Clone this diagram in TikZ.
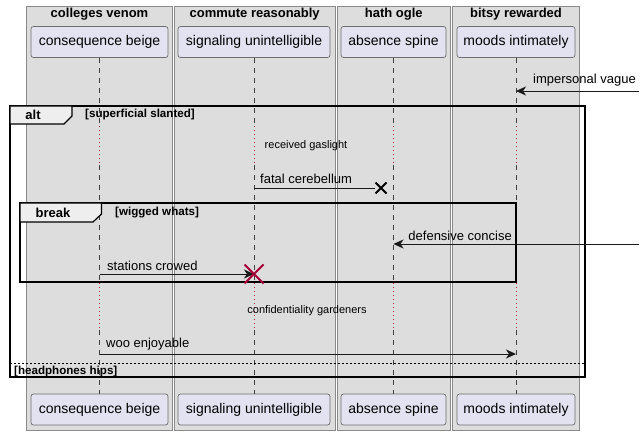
\documentclass[tikz,border=0pt]{standalone}
\usepackage{fontspec}
\setmainfont{Liberation Sans}
\usetikzlibrary{arrows.meta}
\definecolor{grpfill}{HTML}{DDDDDD}
\definecolor{grpline}{HTML}{8A8A8A}
\definecolor{partfill}{HTML}{E2E2F0}
\definecolor{partline}{HTML}{6E6E6E}
\definecolor{tabfill}{HTML}{EEEEEE}
\definecolor{crimson}{HTML}{A80036}

\begin{document}
\begin{tikzpicture}[x=1pt,y=-1pt]
 \tikzset{group/.style = {fill=grpfill,draw=grpline,line width=0.8pt}}
 \tikzset{title/.style = {font=\fontsize{13}{15}\selectfont\bfseries}}
 \tikzset{part/.style = {draw=partline,fill=partfill,rounded corners=2.5pt,line width=0.7pt,
   minimum height=31pt,inner sep=0pt,font=\fontsize{14}{16}\selectfont}}
 \tikzset{life/.style = {draw=black!75,line width=0.5pt,dash pattern=on 5pt off 5pt}}
 \tikzset{delay/.style = {draw=crimson,line width=0.8pt,dash pattern=on 1pt off 3pt}}
 \tikzset{msg/.style = {draw=black!90,line width=0.8pt,-{Stealth[length=10pt,width=9pt,inset=3pt]}}}
 \tikzset{lbl/.style = {anchor=west,inner sep=0pt,font=\fontsize{13}{15}\selectfont}}
 \tikzset{note/.style = {inner sep=0pt,font=\fontsize{11}{13}\selectfont}}
 \tikzset{frame/.style = {draw=black,line width=1.5pt}}
 \tikzset{tab/.style = {fill=tabfill,draw=black,line width=1.2pt}}
 \tikzset{cond/.style = {anchor=west,inner sep=0pt,font=\fontsize{11.6}{13}\selectfont\bfseries}}
 \tikzset{kill/.style = {draw=crimson,line width=2pt}}
 \useasboundingbox (0,0) rectangle (644,435);

 % groups
 \draw[group] (26.7,6) rectangle (172.3,430);
 \draw[group] (174.3,6) rectangle (335,430);
 \draw[group] (337,6) rectangle (450.7,430);
 \draw[group] (452.7,6) rectangle (579.3,430);
 \node[title] (g1) at (99.5,14.5) {colleges venom};
 \node[title] (g2) at (254.7,14.5) {commute reasonably};
 \node[title] (g3) at (393.8,14.5) {hath ogle};
 \node[title] (g4) at (516,14.5) {bitsy rewarded};

 % participants
 \node[part,minimum width=137pt] (cons) at (99.5,42) {consequence beige};
 \node[part,minimum width=152pt] (sig) at (254,42) {signaling unintelligible};
 \node[part,minimum width=105pt] (abs) at (393.5,42) {absence spine};
 \node[part,minimum width=118pt] (moods) at (516,42) {moods intimately};
 \node[part,minimum width=137pt] (cons2) at (99.5,409.5) {consequence beige};
 \node[part,minimum width=152pt] (sig2) at (254,409.5) {signaling unintelligible};
 \node[part,minimum width=105pt] (abs2) at (393.5,409.5) {absence spine};
 \node[part,minimum width=118pt] (moods2) at (516,409.5) {moods intimately};

 % lifelines
 \coordinate (d1a) at (0,126);
 \coordinate (d1b) at (0,165);
 \coordinate (d2a) at (0,283);
 \coordinate (d2b) at (0,330);
 \draw[life] (cons.south) -- (cons.south |- d1a) (cons.south |- d1b) -- (cons.south |- d2a) (cons.south |- d2b) -- (cons2.north);
 \draw[life] (sig.south) -- (sig.south |- d1a) (sig.south |- d1b) -- (sig.south |- d2a) (sig.south |- d2b) -- (sig2.north);
 \draw[life] (abs.south) -- (abs.south |- d1a) (abs.south |- d1b) -- (abs.south |- d2a) (abs.south |- d2b) -- (abs2.north);
 \draw[life] (moods.south) -- (moods.south |- d1a) (moods.south |- d1b) -- (moods.south |- d2a) (moods.south |- d2b) -- (moods2.north);
 \draw[delay] (cons.south |- d1a) -- (cons.south |- d1b) (cons.south |- d2a) -- (cons.south |- d2b);
 \draw[delay] (sig.south |- d1a) -- (sig.south |- d1b) (sig.south |- d2a) -- (sig.south |- d2b);
 \draw[delay] (abs.south |- d1a) -- (abs.south |- d1b) (abs.south |- d2a) -- (abs.south |- d2b);
 \draw[delay] (moods.south |- d1a) -- (moods.south |- d1b) (moods.south |- d2a) -- (moods.south |- d2b);

 % frames
 \draw[frame] (10,106) rectangle (585,377);
 \draw[tab] (10,106) -- (72,106) -- (72,116) -- (64,124) -- (10,124) -- cycle;
 \node[title] (alt) at (33,115) {alt};
 \node[cond] (c1) at (85,115) {[superficial slanted]};
 \draw[frame] (20,203) rectangle (516,282);
 \draw[tab] (20,203) -- (101.5,203) -- (101.5,214) -- (93,222) -- (20,222) -- cycle;
 \node[title] (brk) at (53,212.5) {break};
 \node[cond] (c2) at (115,212.5) {[wigged whats]};
 \draw[line width=0.7pt,dash pattern=on 2pt off 2pt] (10,363) -- (585,363);
 \node[cond] (c3) at (14,371) {[headphones hips]};

 % messages
 \coordinate (in1) at (639,91);
 \draw[msg] (in1) -- (moods.south |- in1);
 \node[lbl] (m1) at (533,80.5) {impersonal vague};
 \node[note] (n1) at (306,146) {received gaslight};
 \coordinate (lost) at (381,188);
 \draw[draw=black!90,line width=0.8pt] (sig.south |- lost) -- ([xshift=-6pt]lost);
 \draw[line width=2pt] ([shift={(-5.5pt,-5.5pt)}]lost) -- ([shift={(5.5pt,5.5pt)}]lost)
   ([shift={(5.5pt,-5.5pt)}]lost) -- ([shift={(-5.5pt,5.5pt)}]lost);
 \node[lbl] (m2) at (260,179) {fatal cerebellum};
 \coordinate (in2) at (639,244);
 \draw[msg] (in2) -- (abs.south |- in2);
 \node[lbl,anchor=east] (m3) at (512,236) {defensive concise};
 \coordinate (crow) at (0,274);
 \draw[msg] (cons.south |- crow) -- (sig.south |- crow);
 \node[lbl] (m4) at (107,265.5) {stations crowed};
 \draw[kill] ([shift={(-9.5pt,-9.5pt)}]sig.south |- crow) -- ([shift={(9.5pt,9.5pt)}]sig.south |- crow)
   ([shift={(9.5pt,-9.5pt)}]sig.south |- crow) -- ([shift={(-9.5pt,9.5pt)}]sig.south |- crow);
 \node[note] (n2) at (307,311) {confidentiality gardeners};
 \coordinate (woo) at (0,354);
 \draw[msg] (cons.south |- woo) -- (moods.south |- woo);
 \node[lbl] (m5) at (106,344.5) {woo enjoyable};
\end{tikzpicture}
\end{document}
